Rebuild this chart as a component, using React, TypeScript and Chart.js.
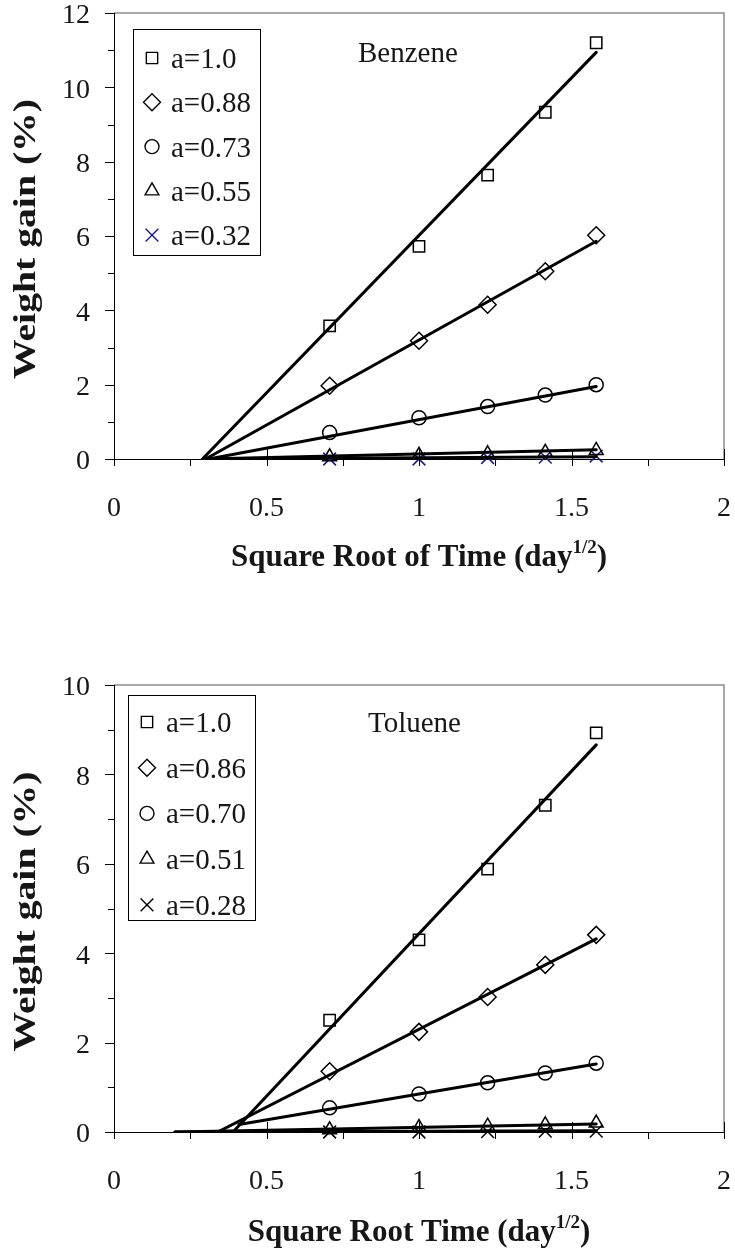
import React, { useEffect, useRef } from 'react';
import { Chart, registerables } from 'chart.js';
import { drawPoint } from 'chart.js/helpers';

Chart.register(...registerables);

// ---------- data ----------
const X_SQRT_TIME = [0.707, 1.0, 1.225, 1.414, 1.581];
const X_TICK_VALUES = [0, 0.5, 1, 1.5, 2];
const X_TICK_LABELS = ['0', '0.5', '1', '1.5', '2'];

const BENZENE_NAME = 'Benzene';
const BENZENE_LABELS = ['a=1.0', 'a=0.88', 'a=0.73', 'a=0.55', 'a=0.32'];
const BENZENE_A100 = [3.58, 5.72, 7.64, 9.33, 11.2];
const BENZENE_A088 = [1.97, 3.18, 4.15, 5.05, 6.02];
const BENZENE_A073 = [0.71, 1.11, 1.41, 1.72, 2.0];
const BENZENE_A055 = [0.06, 0.1, 0.14, 0.18, 0.23];
const BENZENE_A032 = [0.0, 0.0, 0.04, 0.05, 0.08];
const BENZENE_FIT_X0 = [0.29, 0.3, 0.31, 0.3, 0.3];
const BENZENE_FIT_Y0 = [0, 0, 0, 0, 0];
const BENZENE_FIT_Y1 = [10.94, 5.86, 1.95, 0.25, 0.06];
const BENZENE_Y_MAX = 12;
const BENZENE_X_TITLE = ['Square Root of Time (day', '1/2', ')'];

const TOLUENE_NAME = 'Toluene';
const TOLUENE_LABELS = ['a=1.0', 'a=0.86', 'a=0.70', 'a=0.51', 'a=0.28'];
const TOLUENE_A100 = [2.5, 4.3, 5.88, 7.31, 8.93];
const TOLUENE_A086 = [1.36, 2.24, 3.02, 3.74, 4.41];
const TOLUENE_A070 = [0.54, 0.85, 1.1, 1.32, 1.54];
const TOLUENE_A051 = [0.05, 0.1, 0.13, 0.16, 0.2];
const TOLUENE_A028 = [0.0, 0.0, 0.01, 0.02, 0.02];
const TOLUENE_FIT_X0 = [0.39, 0.34, 0.41, 0.2, 0.2];
const TOLUENE_FIT_Y0 = [0, 0, 0.17, 0, 0];
const TOLUENE_FIT_Y1 = [8.66, 4.32, 1.52, 0.18, 0.03];
const TOLUENE_Y_MAX = 10;
const TOLUENE_X_TITLE = ['Square Root Time (day', '1/2', ')'];

const Y_TITLE = 'Weight gain (%)';

// ---------- styles ----------
const FONT = "'Liberation Serif', 'Times New Roman', serif";
const TEXT = '#161616';
const MARKERS = [
  { pointStyle: 'rect', radius: 8 },
  { pointStyle: 'rectRot', radius: 8.5 },
  { pointStyle: 'circle', radius: 7 },
  { pointStyle: 'triangle', radius: 8 },
  { pointStyle: 'crossRot', radius: 9 },
];

const framePlugin = {
  id: 'frame',
  beforeDraw(chart: any) {
    const { ctx, chartArea: a } = chart;
    ctx.save();
    ctx.strokeStyle = '#8c8c8c';
    ctx.lineWidth = 1.5;
    ctx.beginPath();
    ctx.moveTo(a.left, a.top);
    ctx.lineTo(a.right, a.top);
    ctx.lineTo(a.right, a.bottom);
    ctx.stroke();
    ctx.restore();
  },
};

const tickPlugin = {
  id: 'tickMarks',
  afterDraw(chart: any, _args: any, opts: any) {
    const { ctx, chartArea: a } = chart;
    const xs = chart.scales.x;
    const ys = chart.scales.y;
    ctx.save();
    ctx.strokeStyle = '#000';
    ctx.lineWidth = 1;
    ctx.beginPath();
    const nx = Math.round((xs.max - xs.min) / opts.xMinor);
    for (let i = 0; i <= nx; i++) {
      const v = xs.min + i * opts.xMinor;
      const px = Math.round(xs.getPixelForValue(v)) + 0.5;
      const r = v / opts.xMajor;
      const major = Math.abs(r - Math.round(r)) < 1e-6;
      ctx.moveTo(px, major ? a.bottom - 10 : a.bottom);
      ctx.lineTo(px, a.bottom + 7);
    }
    const ny = Math.round((ys.max - ys.min) / opts.yMinor);
    for (let i = 0; i <= ny; i++) {
      const v = ys.min + i * opts.yMinor;
      const py = Math.round(ys.getPixelForValue(v)) + 0.5;
      const r = v / opts.yMajor;
      const major = Math.abs(r - Math.round(r)) < 1e-6;
      ctx.moveTo(a.left - (major ? 9 : 6), py);
      ctx.lineTo(a.left, py);
    }
    ctx.stroke();
    ctx.restore();
  },
};

const legendPlugin = {
  id: 'boxLegend',
  afterDraw(chart: any, _args: any, o: any) {
    const { ctx } = chart;
    ctx.save();
    ctx.strokeStyle = '#000';
    ctx.lineWidth = 1;
    ctx.strokeRect(o.left, o.top, o.width, o.height);
    const markerSets = chart.data.datasets.filter((d: any) => d.isMarker);
    markerSets.forEach((d: any, i: number) => {
      const y = o.firstY + i * o.gap;
      ctx.strokeStyle = d.borderColor;
      ctx.fillStyle = 'rgba(0,0,0,0)';
      ctx.lineWidth = 1.4;
      drawPoint(ctx, { pointStyle: d.pointStyle, radius: d.legendRadius, rotation: 0, borderWidth: 1.4 }, o.markerX, y);
      ctx.fillStyle = TEXT;
      ctx.font = `${o.fontSize}px ${FONT}`;
      ctx.textBaseline = 'alphabetic';
      ctx.textAlign = 'left';
      ctx.fillText(d.label, o.textX, y + o.baselineOffset);
    });
    ctx.restore();
  },
};

const notePlugin = {
  id: 'note',
  afterDraw(chart: any, _args: any, o: any) {
    const { ctx } = chart;
    ctx.save();
    ctx.fillStyle = TEXT;
    ctx.font = `${o.fontSize}px ${FONT}`;
    ctx.textBaseline = 'alphabetic';
    ctx.textAlign = 'left';
    ctx.fillText(o.text, o.x, o.y);
    ctx.restore();
  },
};

const yTitlePlugin = {
  id: 'yTitle',
  afterDraw(chart: any, _args: any, o: any) {
    const { ctx, chartArea: a } = chart;
    ctx.save();
    ctx.fillStyle = TEXT;
    ctx.font = `bold ${o.fontSize}px ${FONT}`;
    ctx.textAlign = 'center';
    ctx.textBaseline = 'middle';
    ctx.translate(o.x, (a.top + a.bottom) / 2 + o.dy);
    ctx.rotate(-Math.PI / 2);
    ctx.scale(o.stretch, 1);
    ctx.fillText(o.text, 0, 0);
    ctx.restore();
  },
};

const xTitlePlugin = {
  id: 'xTitle',
  afterDraw(chart: any, _args: any, o: any) {
    const { ctx, chartArea: a } = chart;
    const [main, sup, tail] = o.parts;
    ctx.save();
    ctx.fillStyle = TEXT;
    ctx.textBaseline = 'alphabetic';
    ctx.textAlign = 'left';
    const big = `bold ${o.fontSize}px ${FONT}`;
    const small = `bold ${Math.round(o.fontSize * 0.62)}px ${FONT}`;
    ctx.font = big;
    const w1 = ctx.measureText(main).width;
    const w3 = ctx.measureText(tail).width;
    ctx.font = small;
    const w2 = ctx.measureText(sup).width;
    const total = w1 + w2 + w3;
    let x = (a.left + a.right) / 2 - total / 2;
    ctx.font = big;
    ctx.fillText(main, x, o.y);
    x += w1;
    ctx.font = small;
    ctx.fillText(sup, x, o.y - o.fontSize * 0.42);
    x += w2;
    ctx.font = big;
    ctx.fillText(tail, x, o.y);
    ctx.restore();
  },
};

function buildDatasets(series: number[][], labels: string[], fitX0: number[], fitY0: number[], fitY1: number[], crossColor: string) {
  const ds: any[] = [];
  series.forEach((vals, i) => {
    ds.push({
      label: labels[i] + ' fit',
      isMarker: false,
      data: [
        { x: fitX0[i], y: fitY0[i] },
        { x: X_SQRT_TIME[X_SQRT_TIME.length - 1], y: fitY1[i] },
      ],
      showLine: true,
      borderColor: '#000',
      borderWidth: 3,
      pointRadius: 0,
      borderCapStyle: 'round',
    });
  });
  series.forEach((vals, i) => {
    const m = MARKERS[i];
    const color = i === 4 ? crossColor : '#000';
    ds.push({
      label: labels[i],
      isMarker: true,
      data: vals.map((v, k) => ({ x: X_SQRT_TIME[k], y: v })),
      showLine: false,
      pointStyle: m.pointStyle,
      pointRadius: m.radius,
      legendRadius: m.radius,
      pointBorderWidth: 1.5,
      borderColor: color,
      pointBorderColor: color,
      backgroundColor: 'rgba(0,0,0,0)',
      pointBackgroundColor: 'rgba(0,0,0,0)',
      clip: false,
    });
  });
  return ds;
}

function makeConfig(spec: any) {
  const tickFont = { family: FONT, size: 28 };
  return {
    type: 'scatter',
    data: { datasets: spec.datasets },
    plugins: [framePlugin, tickPlugin, legendPlugin, notePlugin, xTitlePlugin, yTitlePlugin],
    options: {
      responsive: false,
      animation: false,
      devicePixelRatio: 1,
      events: [],
      layout: { padding: { top: spec.top, right: 11, left: 0, bottom: 0 } },
      plugins: {
        legend: { display: false },
        tooltip: { enabled: false },
        tickMarks: { xMinor: 0.25, xMajor: 0.5, yMinor: 1, yMajor: 2 },
        boxLegend: spec.legend,
        note: spec.note,
        xTitle: spec.xTitle,
        yTitle: { text: Y_TITLE, x: 27, dy: 3, fontSize: 32, stretch: 1.24 },
      },
      scales: {
        x: {
          type: 'linear',
          min: 0,
          max: 2,
          afterFit: (s: any) => {
            s.height = spec.xAxisHeight;
            s.paddingLeft = 0;
            s.paddingRight = 0;
          },
          afterBuildTicks: (s: any) => { s.ticks = X_TICK_VALUES.map((v) => ({ value: v })); },
          grid: { display: false, drawTicks: false },
          border: { display: true, color: '#000', width: 1 },
          ticks: {
            autoSkip: false,
            maxRotation: 0,
            padding: spec.xTickPad,
            font: tickFont,
            color: TEXT,
            callback: (v: number) => {
              const idx = X_TICK_VALUES.findIndex((t) => Math.abs(t - v) < 1e-9);
              return idx >= 0 ? X_TICK_LABELS[idx] : '';
            },
          },
        },
        y: {
          type: 'linear',
          min: 0,
          max: spec.yMax,
          afterFit: (s: any) => {
            s.width = 114;
            s.paddingTop = 0;
            s.paddingBottom = 0;
          },
          grid: { display: false, drawTicks: false },
          border: { display: true, color: '#000', width: 1 },
          ticks: { stepSize: 2, padding: 24, labelOffset: 3, font: tickFont, color: TEXT },
          title: { display: false },
        },
      },
    },
  };
}

function ChartCanvas({ spec, height }: { spec: any; height: number }) {
  const ref = useRef<HTMLCanvasElement | null>(null);
  useEffect(() => {
    if (!ref.current) return;
    const chart = new Chart(ref.current, makeConfig(spec) as any);
    return () => chart.destroy();
  }, [spec]);
  return <canvas ref={ref} width={735} height={height} style={{ display: 'block', width: 735, height }} />;
}

const TOP_SPEC = {
  top: 13,
  yMax: BENZENE_Y_MAX,
  xAxisHeight: 627 - 459,
  xTickPad: 33,
  datasets: buildDatasets(
    [BENZENE_A100, BENZENE_A088, BENZENE_A073, BENZENE_A055, BENZENE_A032],
    BENZENE_LABELS, BENZENE_FIT_X0, BENZENE_FIT_Y0, BENZENE_FIT_Y1, '#1a1a8c'
  ),
  legend: { left: 133.5, top: 29.5, width: 127, height: 226, markerX: 152, textX: 171, firstY: 58, gap: 44.3, fontSize: 29, baselineOffset: 10 },
  note: { text: BENZENE_NAME, x: 358, y: 62, fontSize: 29 },
  xTitle: { parts: BENZENE_X_TITLE, y: 566, fontSize: 31 },
};

const BOTTOM_SPEC = {
  top: 58,
  yMax: TOLUENE_Y_MAX,
  xAxisHeight: 628 - 505,
  xTickPad: 33,
  datasets: buildDatasets(
    [TOLUENE_A100, TOLUENE_A086, TOLUENE_A070, TOLUENE_A051, TOLUENE_A028],
    TOLUENE_LABELS, TOLUENE_FIT_X0, TOLUENE_FIT_Y0, TOLUENE_FIT_Y1, '#000'
  ),
  legend: { left: 128.5, top: 68.5, width: 127, height: 225, markerX: 147, textX: 166, firstY: 95, gap: 45.7, fontSize: 29, baselineOffset: 10 },
  note: { text: TOLUENE_NAME, x: 368, y: 105, fontSize: 29 },
  xTitle: { parts: TOLUENE_X_TITLE, y: 614, fontSize: 31 },
};

export default function App() {
  return (
    <div style={{ position: 'absolute', left: 0, top: 0, width: 735, height: 1255, background: '#fff' }}>
      <ChartCanvas spec={TOP_SPEC} height={627} />
      <ChartCanvas spec={BOTTOM_SPEC} height={628} />
    </div>
  );
}
